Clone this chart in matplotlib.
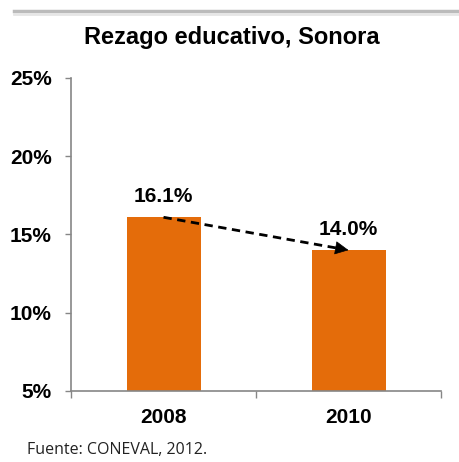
import matplotlib
matplotlib.use('Agg')
import matplotlib.pyplot as plt
from matplotlib.lines import Line2D
from matplotlib.ticker import FixedLocator

# Datos
years = ['2008', '2010']
rezago = [16.1, 14.0]
y_ticks = [5, 10, 15, 20, 25]
title = 'Rezago educativo, Sonora'
source = 'Fuente: CONEVAL, 2012.'

BAR_COLOR = '#E46C0A'
AXIS_COLOR = '#868686'

fig = plt.figure(figsize=(4.59, 4.62), dpi=100)
ax = fig.add_axes([0.1547, 0.1537, 0.8061, 0.6775])

x = list(range(len(years)))
ax.bar(x, rezago, width=0.4, color=BAR_COLOR, zorder=2)
ax.set_xlim(-0.5, len(years) - 0.5)
ax.set_ylim(y_ticks[0], y_ticks[-1])

# Eje y
ax.set_yticks(y_ticks)
ax.set_yticklabels([f'{t}%' for t in y_ticks], fontsize=15, fontweight='bold',
                   family='Liberation Sans')
ax.tick_params(axis='y', direction='out', length=4, width=1, color=AXIS_COLOR, pad=10)

# Eje x: etiquetas centradas, marcas entre categorias
ax.set_xticks(x)
ax.set_xticklabels(years, fontsize=15, fontweight='bold', family='Liberation Sans')
ax.tick_params(axis='x', which='major', length=0, pad=12)
ax.xaxis.set_minor_locator(FixedLocator([i - 0.5 for i in range(len(years) + 1)]))
ax.tick_params(axis='x', which='minor', direction='out', length=5, width=1, color=AXIS_COLOR)

for side in ['top', 'right']:
    ax.spines[side].set_visible(False)
for side in ['left', 'bottom']:
    ax.spines[side].set_color(AXIS_COLOR)
    ax.spines[side].set_linewidth(1.2)

# Etiquetas de datos
for xi, v in zip(x, rezago):
    ax.annotate(f'{v:.1f}%', xy=(xi, v), xytext=(0, 15), textcoords='offset points',
                ha='center', va='center', fontsize=15, fontweight='bold',
                family='Liberation Sans', zorder=4)

# Flecha discontinua de tendencia: linea a trazos + punta solida
x0, x1 = x[0], x[1]
y0, y1 = rezago[0], rezago[1]
ax.plot([x0, x0 + 0.95 * (x1 - x0)], [y0, y0 + 0.95 * (y1 - y0)],
        color='black', lw=2, linestyle=(0, (3, 2)), zorder=3)
ax.annotate('', xy=(x1, y1), xytext=(x0 + 0.9 * (x1 - x0), y0 + 0.9 * (y1 - y0)),
            arrowprops=dict(arrowstyle='-|>', lw=0.5, color='black',
                            mutation_scale=22, shrinkA=0, shrinkB=0), zorder=3)

fig.text(0.505, 0.918, title, ha='center', va='center', fontsize=17,
         fontweight='bold', family='Liberation Sans')
fig.text(0.059, 0.027, source, ha='left', va='center', fontsize=11.5, family='Open Sans',
         color='#222222')

# Linea gris superior (sombra)
fig.add_artist(Line2D([0.03, 1.0], [0.976, 0.976], transform=fig.transFigure,
                      color='#BBBBBB', lw=2.5))
fig.add_artist(Line2D([0.03, 1.0], [0.970, 0.970], transform=fig.transFigure,
                      color='#E6E6E6', lw=2))

fig.savefig('out.png', dpi=100)
